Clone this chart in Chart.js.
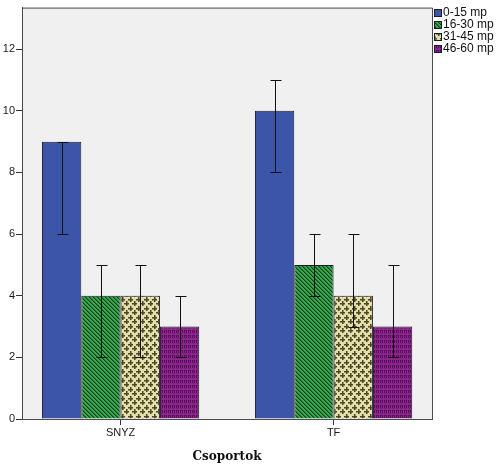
<!DOCTYPE html>
<html>
<head>
<meta charset="utf-8">
<script src="https://cdn.jsdelivr.net/npm/chart.js@4.4.1/dist/chart.umd.min.js"></script>
<style>
  html, body { margin: 0; padding: 0; background: #ffffff; }
  #wrap { width: 498px; height: 465px; }
</style>
</head>
<body>
<div id="wrap"><canvas id="c" width="498" height="465"></canvas></div>
<script>
// ---- data ----
const categories = ['SNYZ', 'TF'];
const seriesNames = ['0-15 mp', '16-30 mp', '31-45 mp', '46-60 mp'];
const values_0_15  = [9, 10];
const values_16_30 = [4, 5];
const values_31_45 = [4, 4];
const values_46_60 = [3, 3];
const low_0_15  = [6, 8];
const high_0_15 = [9, 11];
const low_16_30  = [2, 4];
const high_16_30 = [5, 6];
const low_31_45  = [2, 3];
const high_31_45 = [5, 6];
const low_46_60  = [2, 2];
const high_46_60 = [4, 5];
const yTicks = [0, 2, 4, 6, 8, 10, 12];
const xTitle = 'Csoportok';

// ---- patterns ----
function makeTile(w, h, draw) {
  const c = document.createElement('canvas');
  c.width = w; c.height = h;
  const g = c.getContext('2d');
  draw(g);
  return document.getElementById('c').getContext('2d').createPattern(c, 'repeat');
}
const blueFill = '#3d55a8';
const greenPat = makeTile(4, 4, g => {
  g.fillStyle = '#36aa4e'; g.fillRect(0, 0, 4, 4);
  g.fillStyle = '#143d1c';
  for (let i = 0; i < 4; i++) { g.fillRect(i, i, 1, 1); }
  g.fillStyle = 'rgba(20,61,28,0.45)';
  for (let i = 0; i < 4; i++) { g.fillRect((i + 1) % 4, i, 1, 1); }
});
const creamPat = makeTile(8, 9, g => {
  g.fillStyle = '#e4deae'; g.fillRect(0, 0, 8, 9);
  const plus = (cx, cy) => {
    g.fillStyle = '#4d4a22';
    g.fillRect(cx - 2, cy, 5, 1);
    g.fillRect(cx, cy - 2, 1, 5);
    g.fillStyle = 'rgba(77,74,34,0.55)';
    g.fillRect(cx - 2, cy + 1, 5, 1);
    g.fillRect(cx + 1, cy - 2, 1, 5);
  };
  plus(2, 2); plus(2, 11); plus(6, 6); plus(-2, 6); plus(6, -3); plus(-2, -3);
});
const purplePat = makeTile(4, 5, g => {
  g.fillStyle = '#8f268f'; g.fillRect(0, 0, 4, 5);
  g.fillStyle = 'rgba(70,10,70,0.8)';
  g.fillRect(0, 0, 1, 3); g.fillRect(2, 0, 1, 3);
  g.fillStyle = 'rgba(70,10,70,0.5)';
  g.fillRect(1, 0, 1, 1); g.fillRect(1, 3, 1, 1);
});

const fills = [blueFill, greenPat, creamPat, purplePat];
const seriesValues = [values_0_15, values_16_30, values_31_45, values_46_60];
const seriesLow = [low_0_15, low_16_30, low_31_45, low_46_60];
const seriesHigh = [high_0_15, high_16_30, high_31_45, high_46_60];

const datasets = seriesNames.map((name, s) => ({
  label: name,
  data: seriesValues[s].map((v, i) => ({ x: i, y: v })),
  low: seriesLow[s],
  high: seriesHigh[s],
  backgroundColor: fills[s],
  borderColor: '#1b1b2a',
  borderWidth: 1,
  categoryPercentage: 0.7385,
  barPercentage: 1.0
}));

// ---- plugins ----
const framePlugin = {
  id: 'frame',
  beforeDraw(chart) {
    const { ctx, chartArea: a } = chart;
    ctx.save();
    ctx.fillStyle = '#f0f0f0';
    ctx.fillRect(a.left, a.top, a.right - a.left, a.bottom - a.top);
    ctx.restore();
  },
  afterDraw(chart) {
    const { ctx, chartArea: a } = chart;
    ctx.save();
    ctx.strokeStyle = '#4a4a4a';
    ctx.lineWidth = 1;
    ctx.beginPath();
    ctx.moveTo(a.left, a.top + 0.5);
    ctx.lineTo(a.right + 0.5, a.top + 0.5);
    ctx.lineTo(a.right + 0.5, a.bottom);
    ctx.stroke();
    ctx.restore();
  }
};

const errorBarPlugin = {
  id: 'errbars',
  afterDatasetsDraw(chart) {
    const { ctx } = chart;
    const ys = chart.scales.y;
    ctx.save();
    ctx.strokeStyle = '#111111';
    ctx.lineWidth = 1;
    chart.data.datasets.forEach((ds, di) => {
      const meta = chart.getDatasetMeta(di);
      meta.data.forEach((el, i) => {
        const x = Math.round(el.x) + 0.5;
        const yl = Math.round(ys.getPixelForValue(ds.low[i])) + 0.5;
        const yh = Math.round(ys.getPixelForValue(ds.high[i])) + 0.5;
        ctx.beginPath();
        ctx.moveTo(x, yl); ctx.lineTo(x, yh);
        ctx.moveTo(x - 5, yl); ctx.lineTo(x + 6, yl);
        ctx.moveTo(x - 5, yh); ctx.lineTo(x + 6, yh);
        ctx.stroke();
      });
    });
    ctx.restore();
  }
};

const legendPlugin = {
  id: 'customLegend',
  afterDraw(chart) {
    const { ctx, chartArea: a } = chart;
    ctx.save();
    ctx.font = '12px "Liberation Sans", Arial, sans-serif';
    ctx.textBaseline = 'middle';
    chart.data.datasets.forEach((ds, i) => {
      const x = a.right + 2;
      const yc = 13 + i * 12;
      ctx.fillStyle = ds.backgroundColor;
      ctx.fillRect(x, yc - 4, 8, 8);
      ctx.strokeStyle = '#1b1b2a';
      ctx.lineWidth = 1;
      ctx.strokeRect(x + 0.5, yc - 3.5, 7, 7);
      ctx.fillStyle = '#111111';
      ctx.fillText(ds.label, x + 9, yc);
    });
    ctx.restore();
  }
};

Chart.defaults.font.family = '"Liberation Sans", Arial, sans-serif';
Chart.defaults.font.size = 11;
Chart.defaults.color = '#1a1a1a';

new Chart(document.getElementById('c'), {
  type: 'bar',
  data: { datasets },
  plugins: [framePlugin, errorBarPlugin, legendPlugin],
  options: {
    responsive: false,
    animation: false,
    devicePixelRatio: 1,
    layout: { padding: { top: 5, right: 66, left: 0, bottom: 0 } },
    plugins: { legend: { display: false }, tooltip: { enabled: false } },
    scales: {
      x: {
        type: 'linear',
        offset: false,
        min: -0.463,
        max: 1.462,
        afterBuildTicks(scale) { scale.ticks = categories.map((c, i) => ({ value: i })); },
        afterFit(scale) { scale.height = 46; },
        ticks: {
          callback: (v) => categories[v] !== undefined ? categories[v] : '',
          maxRotation: 0,
          autoSkip: false,
          padding: 1,
          color: '#1a1a1a'
        },
        grid: { offset: false, drawOnChartArea: false, drawTicks: true, tickLength: 6, color: '#333333' },
        border: { display: true, color: '#4a4a4a', width: 1 },
        title: {
          display: true,
          text: xTitle,
          font: { family: '"DejaVu Serif", serif', weight: 'bold', size: 12 },
          color: '#111111',
          padding: { top: 0, bottom: 1 }
        }
      },
      y: {
        min: 0,
        max: 13.35,
        afterBuildTicks(scale) { scale.ticks = yTicks.map(v => ({ value: v })); },
        afterFit(scale) { scale.width = 22; },
        ticks: { padding: 1, color: '#1a1a1a' },
        grid: { drawOnChartArea: false, drawTicks: true, tickLength: 6, color: '#333333' },
        border: { display: true, color: '#4a4a4a', width: 1 }
      }
    }
  }
});
</script>
</body>
</html>
